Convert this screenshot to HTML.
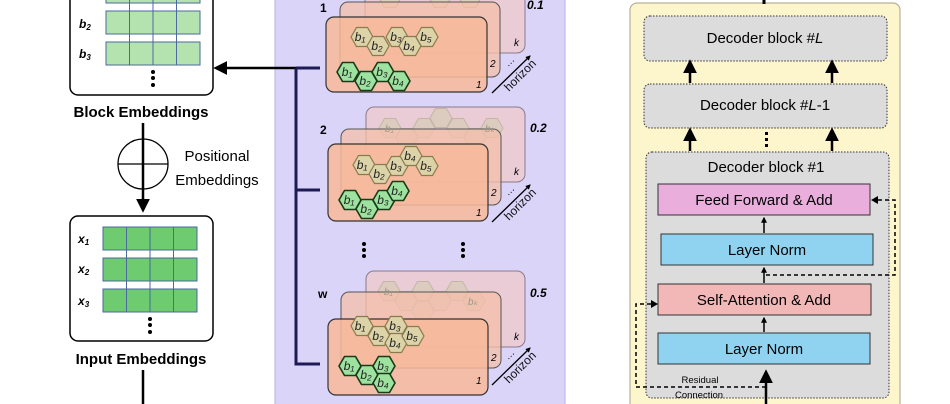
<!DOCTYPE html>
<html><head><meta charset="utf-8"><style>
html,body{margin:0;padding:0;background:#fff;}
svg{display:block;font-family:"Liberation Sans",sans-serif;}
</style></head><body>
<svg width="950" height="404" viewBox="0 0 950 404" xmlns="http://www.w3.org/2000/svg">
<defs>
<polygon id="hx" points="-11,0 -5.5,-9.5 5.5,-9.5 11,0 5.5,9.5 -5.5,9.5"/>
<marker id="ah" viewBox="0 0 10 10" refX="8" refY="5" markerWidth="5.5" markerHeight="5.5" orient="auto"><path d="M0,0 L10,5 L0,10 z" fill="#000"/></marker>
<marker id="ah2" viewBox="0 0 10 10" refX="8" refY="5" markerWidth="4" markerHeight="4" orient="auto"><path d="M0,0 L10,5 L0,10 z" fill="#000"/></marker>
</defs>

<!-- LEFT -->
<rect x="70" y="-10" width="143" height="105" rx="8" fill="#fff" stroke="#000" stroke-width="1.5"/>
<g stroke="#4a6aa0" stroke-width="1" fill="#b5e3b0">
<rect x="106" y="-14" width="94" height="17"/>
<rect x="106" y="11" width="94" height="23"/>
<rect x="106" y="42" width="94" height="23"/>
</g>
<g stroke="#4a6aa0"><line x1="129.5" y1="-14" x2="129.5" y2="65"/><line x1="153" y1="-14" x2="153" y2="65"/><line x1="176.5" y1="-14" x2="176.5" y2="65"/></g>
<g font-size="12" font-weight="bold" font-style="italic"><text x="79" y="28">b<tspan font-size="8" dy="2">2</tspan></text><text x="79" y="58">b<tspan font-size="8" dy="2">3</tspan></text></g>
<g fill="#000"><circle cx="153" cy="72" r="2"/><circle cx="153" cy="78" r="2"/><circle cx="153" cy="85" r="2"/></g>
<text x="141" y="117" font-size="15" font-weight="bold" text-anchor="middle">Block Embeddings</text>
<line x1="143" y1="123" x2="143" y2="210" stroke="#000" stroke-width="2.5" marker-end="url(#ah)"/>
<circle cx="143" cy="164" r="25" fill="none" stroke="#000" stroke-width="1.3"/>
<line x1="118" y1="164" x2="168" y2="164" stroke="#000" stroke-width="1.3"/>
<text x="217" y="161" font-size="15" text-anchor="middle">Positional</text>
<text x="217" y="185" font-size="15" text-anchor="middle">Embeddings</text>
<rect x="70" y="216" width="143" height="125" rx="8" fill="#fff" stroke="#000" stroke-width="1.5"/>
<g stroke="#4a6aa0" stroke-width="1" fill="#6fcb70">
<rect x="103" y="227" width="94" height="23"/>
<rect x="103" y="258" width="94" height="23"/>
<rect x="103" y="289" width="94" height="23"/>
</g>
<g stroke="#4a6aa0"><line x1="126.5" y1="227" x2="126.5" y2="312"/><line x1="150" y1="227" x2="150" y2="312"/><line x1="173.5" y1="227" x2="173.5" y2="312"/></g>
<g font-size="12" font-weight="bold" font-style="italic"><text x="78" y="243">x<tspan font-size="8" dy="2">1</tspan></text><text x="78" y="273">x<tspan font-size="8" dy="2">2</tspan></text><text x="78" y="305">x<tspan font-size="8" dy="2">3</tspan></text></g>
<g fill="#000"><circle cx="150" cy="319" r="2"/><circle cx="150" cy="325" r="2"/><circle cx="150" cy="332" r="2"/></g>
<text x="141" y="364" font-size="15" font-weight="bold" text-anchor="middle">Input Embeddings</text>
<line x1="143" y1="370" x2="143" y2="404" stroke="#000" stroke-width="2.5"/>

<!-- MIDDLE -->
<rect x="275" y="-5" width="290" height="415" fill="#dad5f8" stroke="#b8b0e8"/>
<line x1="296" y1="68" x2="216" y2="68" stroke="#000" stroke-width="2.5" marker-end="url(#ah)"/>
<path d="M296,68 V364 H320 M296,68 H320 M296,190 H320" fill="none" stroke="#1e1a55" stroke-width="3"/>

<g>
<rect x="365" y="-20" width="160" height="73" rx="8" fill="#f0c8c8" fill-opacity="0.7" stroke="#8a7a8a"/>
<g fill="#dcd0b8" stroke="#b0a890" opacity="0.8"><use href="#hx" x="390" y="-2"/><use href="#hx" x="440" y="-2"/><use href="#hx" x="470" y="-2"/></g>
<rect x="340" y="2" width="160" height="75" rx="8" fill="#f4bfa8" fill-opacity="0.75" stroke="#555"/>
<rect x="326" y="17" width="161" height="75" rx="8" fill="#f7b99a" fill-opacity="0.85" stroke="#333" stroke-width="1.2"/>
</g>
<g>
<rect x="366" y="107" width="159" height="75" rx="8" fill="#f0c8c8" fill-opacity="0.7" stroke="#8a7a8a"/>
<g fill="#d8cdb8" stroke="#b8ae98" opacity="0.75">
<use href="#hx" x="390" y="128"/><use href="#hx" x="407" y="138"/><use href="#hx" x="424" y="128"/><use href="#hx" x="441" y="118"/><use href="#hx" x="458" y="128"/><use href="#hx" x="475" y="138"/><use href="#hx" x="492" y="128"/>
</g>
<rect x="341" y="129" width="160" height="76" rx="8" fill="#f4bfa8" fill-opacity="0.75" stroke="#555"/>
<rect x="328" y="144" width="160" height="77" rx="8" fill="#f7b99a" fill-opacity="0.85" stroke="#333" stroke-width="1.2"/>
</g>
<g>
<rect x="366" y="271" width="159" height="76" rx="8" fill="#f0c8c8" fill-opacity="0.7" stroke="#8a7a8a"/>
<g fill="#d8cdb8" stroke="#b8ae98" opacity="0.75">
<use href="#hx" x="389" y="291"/><use href="#hx" x="406" y="301"/><use href="#hx" x="423" y="311"/><use href="#hx" x="440" y="301"/><use href="#hx" x="457" y="291"/><use href="#hx" x="474" y="301"/><use href="#hx" x="423" y="291"/>
</g>
<rect x="341" y="292" width="160" height="76" rx="8" fill="#f4bfa8" fill-opacity="0.75" stroke="#555"/>
<rect x="328" y="319" width="160" height="76" rx="8" fill="#f7b99a" fill-opacity="0.85" stroke="#333" stroke-width="1.2"/>
</g>
<g font-size="10" font-style="italic" fill="#a09888"><text x="385" y="132">b₁</text><text x="485" y="132">bₖ</text><text x="384" y="295">b₁</text><text x="468" y="305">bₖ</text></g>

<g fill="#dcd3a8" stroke="#8a7a50" stroke-width="1.2">
<use href="#hx" x="362" y="37"/><use href="#hx" x="378" y="46"/><use href="#hx" x="397" y="37"/><use href="#hx" x="410" y="46"/><use href="#hx" x="427" y="37"/>
<use href="#hx" x="364" y="165"/><use href="#hx" x="380" y="174"/><use href="#hx" x="397" y="166"/><use href="#hx" x="411" y="156"/><use href="#hx" x="427" y="166"/>
<use href="#hx" x="362" y="326"/><use href="#hx" x="379" y="336"/><use href="#hx" x="396" y="326"/><use href="#hx" x="396" y="343"/><use href="#hx" x="413" y="336"/>
</g>
<g fill="#9ee2a0" stroke="#1a3a1a" stroke-width="1.6">
<use href="#hx" x="348" y="72"/><use href="#hx" x="366" y="81"/><use href="#hx" x="383" y="72"/><use href="#hx" x="399" y="81"/>
<use href="#hx" x="350" y="200"/><use href="#hx" x="367" y="209"/><use href="#hx" x="384" y="200"/><use href="#hx" x="398" y="191"/>
<use href="#hx" x="350" y="366"/><use href="#hx" x="367" y="375"/><use href="#hx" x="384" y="366"/><use href="#hx" x="384" y="383"/>
</g>
<g font-size="12" font-style="italic" text-anchor="middle" fill="#222">
<text x="360" y="41">b₁</text><text x="377" y="50">b₂</text><text x="396" y="41">b₃</text><text x="409" y="50">b₄</text><text x="426" y="41">b₅</text>
<text x="362" y="169">b₁</text><text x="379" y="178">b₂</text><text x="396" y="170">b₃</text><text x="410" y="160">b₄</text><text x="426" y="170">b₅</text>
<text x="360" y="330">b₁</text><text x="378" y="340">b₂</text><text x="395" y="330">b₃</text><text x="395" y="347">b₄</text><text x="412" y="340">b₅</text>
<text x="347" y="76">b₁</text><text x="365" y="85">b₂</text><text x="382" y="76">b₃</text><text x="398" y="85">b₄</text>
<text x="349" y="204">b₁</text><text x="366" y="213">b₂</text><text x="383" y="204">b₃</text><text x="397" y="195">b₄</text>
<text x="349" y="370">b₁</text><text x="366" y="379">b₂</text><text x="383" y="370">b₃</text><text x="383" y="387">b₄</text>
</g>
<g font-size="12" font-weight="bold">
<text x="320" y="12">1</text><text x="320" y="134">2</text><text x="318" y="298">w</text>
<text x="527" y="9" font-style="italic">0.1</text><text x="530" y="132" font-style="italic">0.2</text><text x="530" y="297" font-style="italic">0.5</text>
</g>
<g font-size="10" font-style="italic">
<text x="514" y="46">k</text><text x="490" y="67">2</text><text x="476" y="88">1</text>
<text x="514" y="175">k</text><text x="491" y="196">2</text><text x="476" y="216">1</text>
<text x="514" y="340">k</text><text x="491" y="361">2</text><text x="476" y="384">1</text>
<text x="505" y="66" font-style="normal" transform="rotate(-45 508 63)">…</text>
<text x="505" y="195" font-style="normal" transform="rotate(-45 508 192)">…</text>
<text x="505" y="359" font-style="normal" transform="rotate(-45 508 356)">…</text>
</g>
<g stroke="#000" stroke-width="1.3" marker-end="url(#ah2)">
<line x1="492" y1="93" x2="530" y2="56"/><line x1="492" y1="222" x2="530" y2="185"/><line x1="492" y1="385" x2="530" y2="348"/>
</g>
<g font-size="12" fill="#111">
<text transform="translate(509,92) rotate(-45)">horizon</text>
<text transform="translate(509,221) rotate(-45)">horizon</text>
<text transform="translate(509,384) rotate(-45)">horizon</text>
</g>
<g fill="#000">
<circle cx="364" cy="244" r="2"/><circle cx="364" cy="250" r="2"/><circle cx="364" cy="256" r="2"/>
<circle cx="463" cy="244" r="2"/><circle cx="463" cy="250" r="2"/><circle cx="463" cy="256" r="2"/>
</g>

<!-- RIGHT -->
<rect x="630" y="3" width="270" height="410" rx="7" fill="#fdf5cc" stroke="#b8b09a" stroke-width="1.2"/>
<line x1="764" y1="0" x2="764" y2="4" stroke="#000" stroke-width="3"/>
<rect x="644" y="16" width="243" height="45" rx="6" fill="#dcdcdc" stroke="#333" stroke-dasharray="1.5,1.5"/>
<text x="765" y="43" font-size="15" text-anchor="middle">Decoder block #<tspan font-style="italic">L</tspan></text>
<rect x="644" y="84" width="243" height="44" rx="6" fill="#dcdcdc" stroke="#333" stroke-dasharray="1.5,1.5"/>
<text x="765" y="110" font-size="15" text-anchor="middle">Decoder block #<tspan font-style="italic">L</tspan>-1</text>
<g stroke="#000" stroke-width="2.5" marker-end="url(#ah)">
<line x1="690" y1="83" x2="690" y2="62"/><line x1="832" y1="83" x2="832" y2="62"/>
<line x1="690" y1="151" x2="690" y2="130"/><line x1="832" y1="151" x2="832" y2="130"/>
</g>
<g fill="#000"><rect x="765" y="132" width="3" height="3"/><rect x="765" y="138" width="3" height="3"/><rect x="765" y="144" width="3" height="3"/></g>
<rect x="646" y="152" width="243" height="246" rx="6" fill="#dcdcdc" stroke="#333" stroke-dasharray="1.5,1.5"/>
<text x="766" y="172" font-size="15" text-anchor="middle">Decoder block #1</text>
<rect x="658" y="184" width="212" height="31" fill="#e9aedc" stroke="#333"/>
<text x="764" y="205" font-size="15" text-anchor="middle">Feed Forward &amp; Add</text>
<rect x="661" y="234" width="212" height="31" fill="#8fd3f0" stroke="#333"/>
<text x="767" y="255" font-size="15" text-anchor="middle">Layer Norm</text>
<rect x="658" y="284" width="213" height="31" fill="#f2b8b8" stroke="#333"/>
<text x="764" y="305" font-size="15" text-anchor="middle">Self-Attention &amp; Add</text>
<rect x="658" y="333" width="212" height="31" fill="#8fd3f0" stroke="#333"/>
<text x="764" y="354" font-size="15" text-anchor="middle">Layer Norm</text>
<g stroke="#000" stroke-width="1.5" marker-end="url(#ah2)">
<line x1="764" y1="233" x2="764" y2="218"/><line x1="764" y1="283" x2="764" y2="268"/><line x1="764" y1="332" x2="764" y2="318"/>
</g>
<line x1="766" y1="404" x2="766" y2="372" stroke="#000" stroke-width="2.5" marker-end="url(#ah)"/>
<g fill="none" stroke="#000" stroke-width="1.5" stroke-dasharray="4,3">
<path d="M766,387 H636 V304 H655"/>
<path d="M766,275 H895 V200 H875"/>
</g>
<path d="M658,304 l-7,-4 v8 z" fill="#000"/>
<path d="M871,200 l7,-4 v8 z" fill="#000"/>
<text x="700" y="383" font-size="9.5" text-anchor="middle">Residual</text>
<text x="699" y="398" font-size="9.5" text-anchor="middle">Connection</text>
</svg>
</body></html>
